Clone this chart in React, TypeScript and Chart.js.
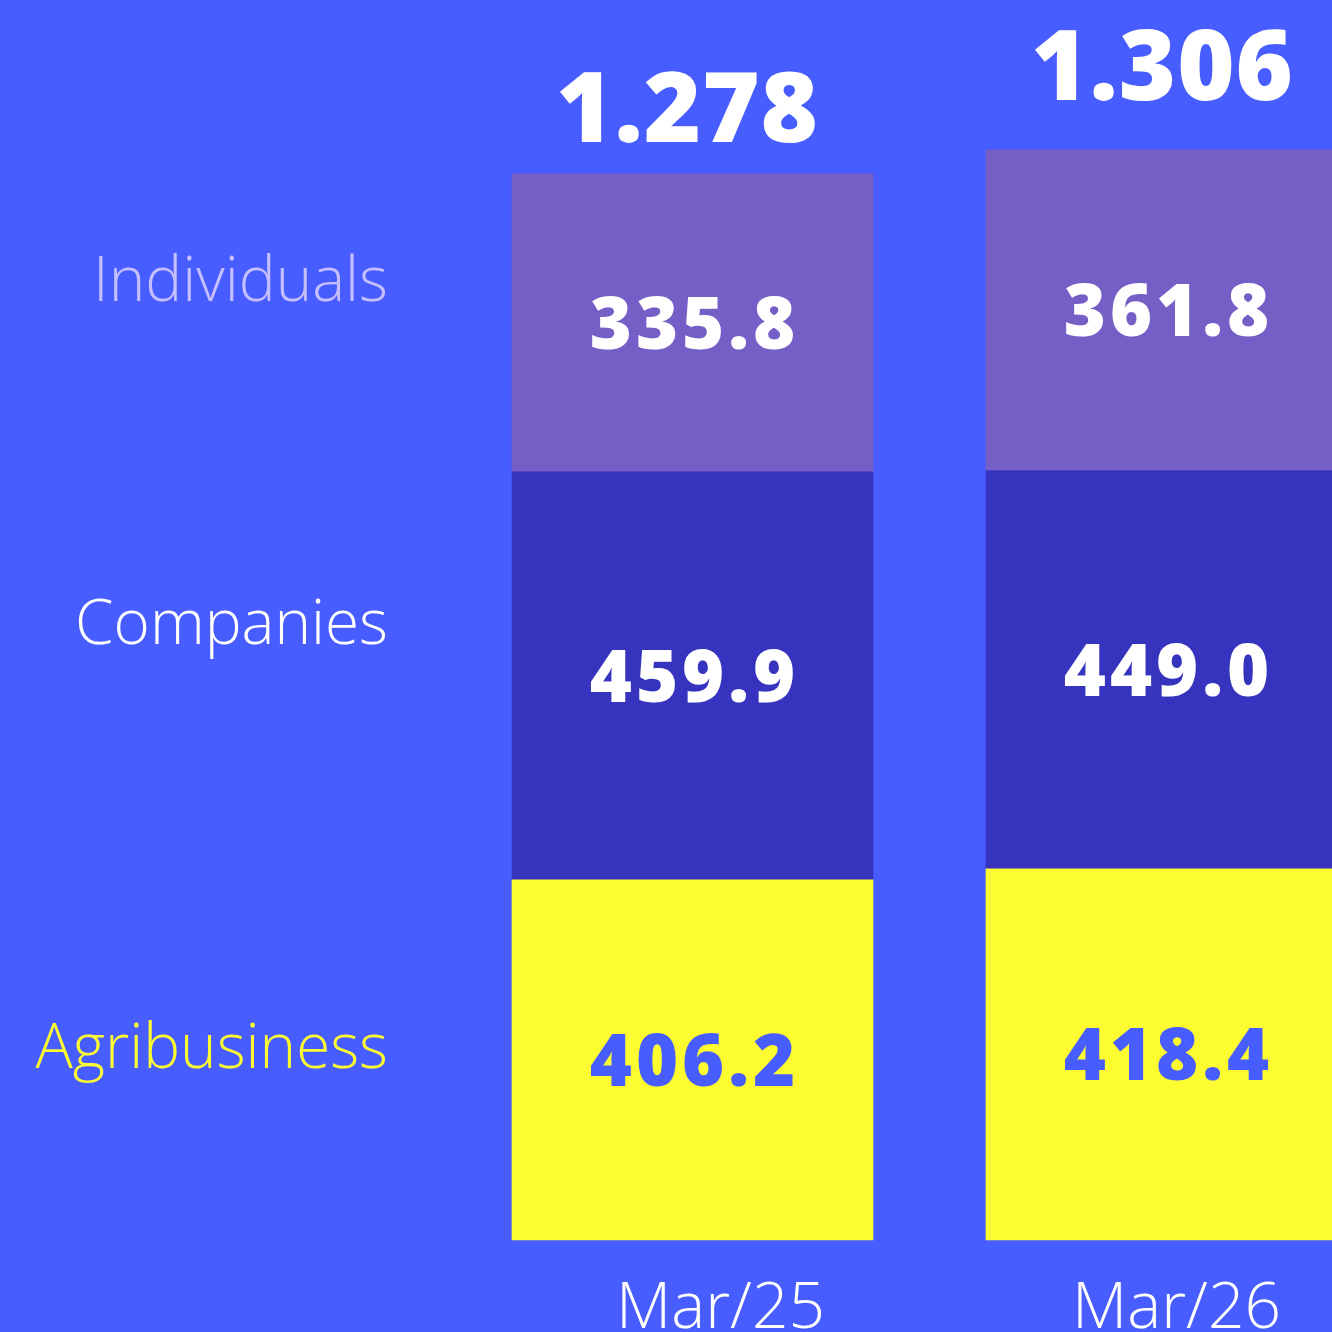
import React, { useEffect, useRef } from "react";
import { Chart, registerables } from "chart.js";

Chart.register(...registerables);

const categories = ["Mar/25", "Mar/26"];
const seriesNames = ["Agribusiness", "Companies", "Individuals"];
const agribusiness = [406.2, 418.4];
const companies = [459.9, 449.0];
const individuals = [335.8, 361.8];
const totalLabels = ["1.278", "1.306"];
const valueLabels = [
  ["406.2", "418.4"],
  ["459.9", "449.0"],
  ["335.8", "361.8"],
];

const BG = "#485DFF";
const COLORS = ["#FCFC30", "#3634BE", "#755EC6"];
const VALUE_TEXT = ["#485DFF", "#FFFFFF", "#FFFFFF"];
const NAME_TEXT = ["#FCFC30", "#FFFFFF", "#C5BEFF"];
const NAME_Y = [1068, 644, 301];
const TOTAL_DY = [32, 50];
const TOTAL_DX = [-5, -4];
const CAT_DX = [28, 10];

const BOLD = "'Open Sans', sans-serif";
const LIGHT = "'Open Sans', sans-serif";

export default function App() {
  const ref = useRef<HTMLCanvasElement>(null);

  useEffect(() => {
    const canvas = ref.current;
    if (!canvas) return;

    const labelsPlugin = {
      id: "labels",
      beforeDraw(chart: any) {
        const ctx = chart.ctx;
        ctx.save();
        ctx.fillStyle = BG;
        ctx.fillRect(0, 0, chart.width, chart.height);
        ctx.restore();
      },
      afterDatasetsDraw(chart: any) {
        const ctx = chart.ctx;
        ctx.save();
        // values in segments
        ctx.textAlign = "center";
        ctx.textBaseline = "alphabetic";
        ctx.font = `800 72px ${BOLD}`;
        (ctx as any).letterSpacing = "4px";
        chart.data.datasets.forEach((ds: any, i: number) => {
          const meta = chart.getDatasetMeta(i);
          meta.data.forEach((el: any, j: number) => {
            const cy = (el.y + el.base) / 2;
            ctx.fillStyle = VALUE_TEXT[i];
            ctx.fillText(valueLabels[i][j], el.x + 2, cy + 26);
          });
        });
        (ctx as any).letterSpacing = "1px";
        // totals
        const topMeta = chart.getDatasetMeta(chart.data.datasets.length - 1);
        ctx.font = `800 98px ${BOLD}`;
        ctx.fillStyle = "#FFFFFF";
        topMeta.data.forEach((el: any, j: number) => {
          ctx.fillText(totalLabels[j], el.x + TOTAL_DX[j], el.y - TOTAL_DY[j]);
        });
        (ctx as any).letterSpacing = "0px";
        // category labels
        ctx.font = `300 64px ${LIGHT}`;
        topMeta.data.forEach((el: any, j: number) => {
          ctx.fillText(categories[j], el.x + CAT_DX[j], 1328);
        });
        // series names
        ctx.textAlign = "right";
        ctx.font = `300 62px ${LIGHT}`;
        seriesNames.forEach((n, i) => {
          ctx.fillStyle = NAME_TEXT[i];
          ctx.fillText(n, 388, NAME_Y[i]);
        });
        ctx.restore();
      },
    };

    const data = {
      labels: categories,
      datasets: [
        { label: seriesNames[0], data: agribusiness, backgroundColor: COLORS[0] },
        { label: seriesNames[1], data: companies, backgroundColor: COLORS[1] },
        { label: seriesNames[2], data: individuals, backgroundColor: COLORS[2] },
      ].map((d) => ({ ...d, barThickness: 361, clip: false as any, borderWidth: 0 })),
    };

    const chart = new Chart(canvas, {
      type: "bar",
      data,
      options: {
        responsive: false,
        animation: false,
        layout: { padding: { left: 692.5, right: 165.5, top: 0, bottom: 92 } },
        plugins: { legend: { display: false }, tooltip: { enabled: false } },
        scales: {
          x: { type: "category", offset: false, stacked: true, display: false },
          y: { stacked: true, min: 0, max: 1398, display: false },
        },
      },
      plugins: [labelsPlugin],
    });
    return () => chart.destroy();
  }, []);

  return (
    <div style={{ position: "fixed", left: 0, top: 0, width: 1332, height: 1332, background: BG, overflow: "hidden" }}>
      <canvas ref={ref} width={1332} height={1332} style={{ display: "block" }} />
    </div>
  );
}
